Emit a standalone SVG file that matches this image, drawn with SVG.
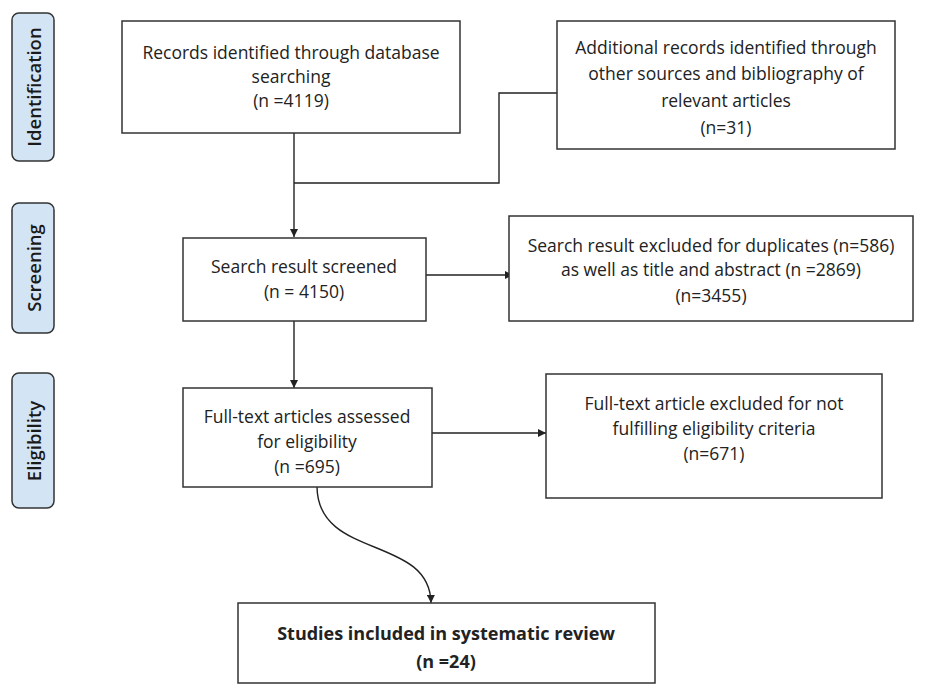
<svg xmlns="http://www.w3.org/2000/svg" width="926" height="690" viewBox="0 0 926 690">
<defs>
<marker id="arr" viewBox="0 0 10 10" refX="10" refY="5" markerWidth="8" markerHeight="8" markerUnits="userSpaceOnUse" orient="auto">
<path d="M0,0 L10,5 L0,10 z" fill="#222"/>
</marker>
<style>
.box{fill:#fff;stroke:#333;stroke-width:1.5}
.pill{fill:#d3e5f4;stroke:#333;stroke-width:1.5}
.t{font-family:"Open Sans","Liberation Sans",sans-serif;font-size:17.5px;fill:#222;text-anchor:middle;dominant-baseline:central}
.b{font-weight:bold;font-size:18px}
.pt{font-family:"Open Sans","Liberation Sans",sans-serif;font-size:18.5px;font-weight:600;fill:#1a1a1a;text-anchor:middle;dominant-baseline:central}
.c{fill:none;stroke:#222;stroke-width:1.4}
</style>
</defs>
<rect width="926" height="690" fill="#fff"/>
<g id="phase-identification"><rect class="pill" x="12" y="13" width="42" height="148" rx="7"/><text class="pt" transform="translate(33,87) rotate(-90)">Identification</text></g>
<g id="phase-screening"><rect class="pill" x="12" y="203" width="42" height="130" rx="7"/><text class="pt" transform="translate(33,268) rotate(-90)">Screening</text></g>
<g id="phase-eligibility"><rect class="pill" x="12" y="373" width="42" height="135" rx="7"/><text class="pt" transform="translate(33,441) rotate(-90)">Eligibility</text></g>
<g id="connectors">
<path class="c" d="M294,133 V237" marker-end="url(#arr)"/>
<path class="c" d="M557,93 H499 V183 H294"/>
<path class="c" d="M426,275 H513" marker-end="url(#arr)"/>
<path class="c" d="M294,321 V388" marker-end="url(#arr)"/>
<path class="c" d="M432,433 H546" marker-end="url(#arr)"/>
<path class="c" d="M317,487 C318,560 430,535 431,603" marker-end="url(#arr)"/>
</g>
<g id="records-db"><rect class="box" x="122" y="21" width="338" height="112"/>
<text class="t" x="291" y="52">Records identified through database</text>
<text class="t" x="291" y="76">searching</text>
<text class="t" x="291" y="100">(n =4119)</text></g>
<g id="records-other"><rect class="box" x="557" y="21" width="338" height="128"/>
<text class="t" x="726" y="47">Additional records identified through</text>
<text class="t" x="726" y="73">other sources and bibliography of</text>
<text class="t" x="726" y="100">relevant articles</text>
<text class="t" x="726" y="127">(n=31)</text></g>
<g id="screened"><rect class="box" x="183" y="238" width="243" height="83"/>
<text class="t" x="304" y="266">Search result screened</text>
<text class="t" x="304" y="291">(n = 4150)</text></g>
<g id="excluded-screen"><rect class="box" x="509" y="216" width="404" height="105"/>
<text class="t" x="711" y="245">Search result excluded for duplicates (n=586)</text>
<text class="t" x="711" y="269">as well as title and abstract (n =2869)</text>
<text class="t" x="711" y="295">(n=3455)</text></g>
<g id="eligibility"><rect class="box" x="183" y="388" width="249" height="99"/>
<text class="t" x="307" y="416">Full-text articles assessed</text>
<text class="t" x="307" y="441">for eligibility</text>
<text class="t" x="307" y="466">(n =695)</text></g>
<g id="excluded-full"><rect class="box" x="546" y="374" width="336" height="124"/>
<text class="t" x="714" y="403">Full-text article excluded for not</text>
<text class="t" x="714" y="428">fulfilling eligibility criteria</text>
<text class="t" x="714" y="453">(n=671)</text></g>
<g id="included"><rect class="box" x="238" y="603" width="417" height="80"/>
<text class="t b" x="446" y="633">Studies included in systematic review</text>
<text class="t b" x="446" y="661">(n =24)</text></g>
</svg>
